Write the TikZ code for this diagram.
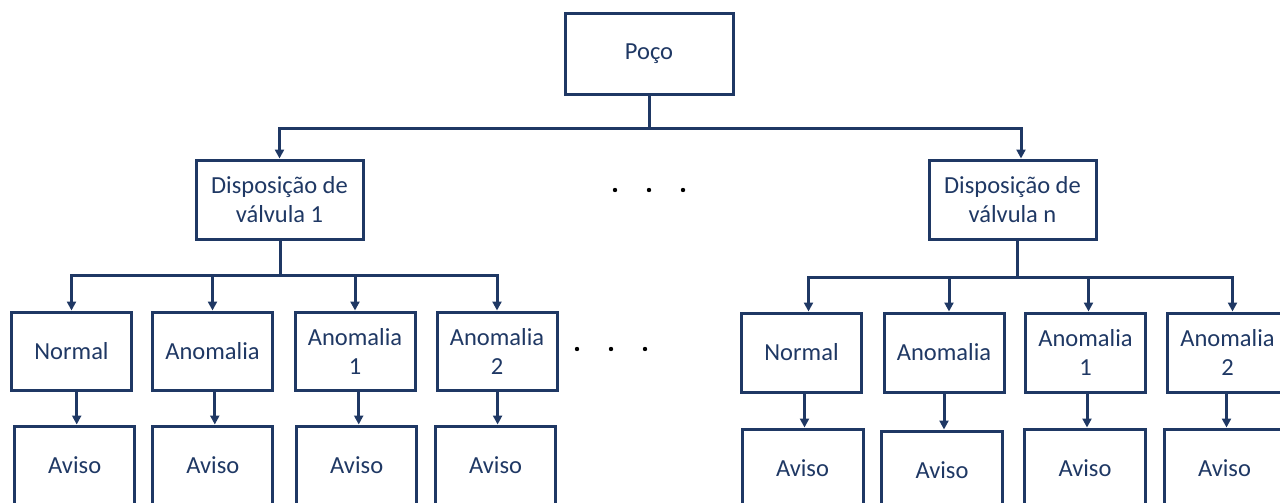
\documentclass[tikz,border=0pt]{standalone}
\usepackage{fontspec}
\setmainfont{Carlito}
\usetikzlibrary{arrows.meta}
\definecolor{navy}{HTML}{1F3864}
\tikzset{
  box/.style={draw=navy, line width=3pt, inner sep=0pt, align=center,
    text=navy, font=\fontsize{24.5}{29}\selectfont},
  arr/.style={draw=navy, line width=3pt, -{Triangle[length=9pt,width=9pt]}},
  ln/.style={draw=navy, line width=3pt},
}
\begin{document}
\begin{tikzpicture}[x=1pt,y=-1pt]
\useasboundingbox (0,0) rectangle (1280,503);
\clip (0,0) rectangle (1280,503);
% top
\node[box, minimum width=168pt, minimum height=80pt] (poco) at (649,54) {\raisebox{-4pt}{Poço}};
\node[box, minimum width=167pt, minimum height=79pt] (d1) at (279.5,199.5) {Disposição de\\válvula 1};
\node[box, minimum width=167pt, minimum height=79pt] (dn) at (1012.5,199.5) {Disposição de\\válvula n};
% left row
\foreach \n/\x/\t in {n1/71.5/Normal, a1/212.5/Anomalia, ao1/355/{Anomalia\\1}, at1/497/{Anomalia\\2}}
  \node[box, minimum width=120pt, minimum height=78pt] (\n) at (\x,351) {\t};
% right row
\foreach \n/\x/\t in {n2/801.5/Normal, a2/944/Anomalia, ao2/1085.5/{Anomalia\\1}, at2/1227.5/{Anomalia\\2}}
  \node[box, minimum width=120pt, minimum height=79pt] (\n) at (\x,352.5) {\t};
% aviso left
\foreach \n/\x in {v1/74.7, v2/212.8, v3/356.7, v4/495.6}
  \node[box, minimum width=120pt, minimum height=100pt] (\n) at (\x,476) {\raisebox{22pt}{Aviso}};
% aviso right
\foreach \n/\x/\y in {w1/802.5/479, w2/942/481, w3/1085/479, w4/1224.5/479}
  \node[box, minimum width=121pt, minimum height=100pt] (\n) at (\x,\y) {\raisebox{22pt}{Aviso}};
% bus coordinates
\coordinate (b0) at (649,128);
\coordinate (b1) at (280,275.5);
\coordinate (b2) at (1017,277);
% connectors top
\draw[ln] (poco.south) -- (poco.south |- b0);
\draw[arr] (poco.south |- b0) -| (d1.north);
\draw[arr] (poco.south |- b0) -| ([xshift=8.5pt]dn.north);
% left level
\draw[ln] ([xshift=1pt]d1.south) -- ([xshift=1pt]d1.south |- b1);
\foreach \n in {n1,a1,ao1,at1}
  \draw[arr] ([xshift=1pt]d1.south |- b1) -| (\n.north);
% right level
\draw[ln] ([xshift=4.5pt]dn.south) -- ([xshift=4.5pt]dn.south |- b2);
\foreach \n/\s in {n2/7,a2/5,ao2/3,at2/5}
  \draw[arr] ([xshift=4.5pt]dn.south |- b2) -| ([xshift=\s pt]\n.north);
% to aviso
\foreach \a/\b in {n1/v1,a1/v2,ao1/v3,at1/v4,n2/w1,a2/w2,ao2/w3,at2/w4}
  \draw[arr] ([xshift=2pt]\b.north |- \a.south) -- ([xshift=2pt]\b.north);
% dots
\foreach \x in {615,649,683} \fill[black] (\x,190) circle (2.2pt);
\foreach \x in {577,611,645} \fill[black] (\x,349) circle (2.2pt);
\end{tikzpicture}
\end{document}
